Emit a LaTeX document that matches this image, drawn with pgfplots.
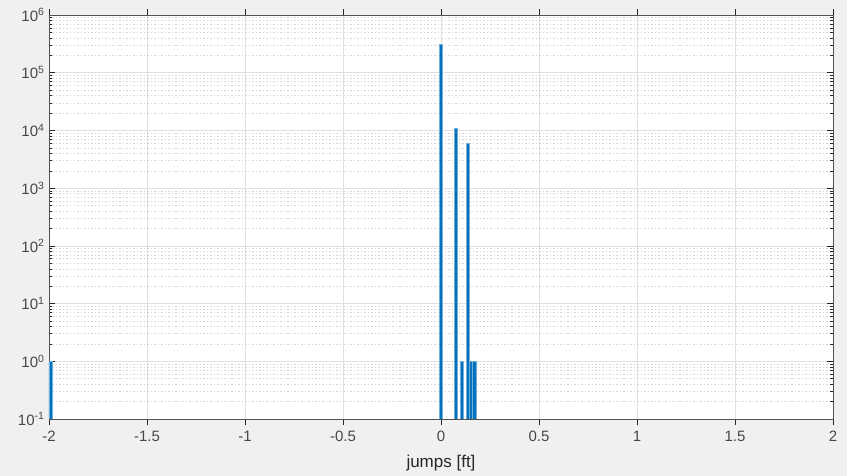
\documentclass[border=0pt]{standalone}
\usepackage{pgfplots}
\pgfplotsset{compat=1.18}
\usepackage{fontspec}
\setmainfont{Liberation Sans}
\definecolor{mblue}{RGB}{0,114,189}
\definecolor{bg}{RGB}{240,240,240}
\definecolor{axc}{RGB}{38,38,38}
\begin{document}
\begin{tikzpicture}[x=1pt,y=1pt]
\fill[bg] (0,0) rectangle (847,476);
\useasboundingbox (0,0) rectangle (847,476);
\begin{axis}[
  at={(49pt,57pt)}, anchor=south west,
  scale only axis, width=784pt, height=404pt,
  axis background/.style={fill=white},
  xmin=-2, xmax=2,
  ymode=log, ymin=0.1, ymax=1e6, log origin=infty,
  xtick={-2,-1.5,-1,-0.5,0,0.5,1,1.5,2},
  xticklabels={-2,-1.5,-1,-0.5,0,0.5,1,1.5,2},
  ytick={0.1,1,10,100,1000,10000,100000,1000000},
  yticklabels={10\textsuperscript{-1},10\textsuperscript{0},10\textsuperscript{1},10\textsuperscript{2},10\textsuperscript{3},10\textsuperscript{4},10\textsuperscript{5},10\textsuperscript{6}},
  tick label style={font=\fontsize{15}{17}\selectfont, text=axc!85},
  yticklabel style={xshift=-1pt},
  xticklabel style={yshift=-3pt},
  label style={font=\fontsize{17}{19}\selectfont, text=axc},
  xlabel={jumps [ft]},
  xlabel style={yshift=-6pt},
  tick align=inside, tick pos=both,
  major tick length=6pt, minor tick length=3pt,
  tick style={color=axc, line width=0.5pt},
  axis line style={color=axc!80, line width=0.6pt},
  xmajorgrids, ymajorgrids, yminorgrids,
  major grid style={color=black!12, line width=0.5pt},
  minor grid style={color=black!16, line width=0.5pt, dash pattern=on 1.5pt off 2pt},
  ybar, bar width=0.0156, bar shift=0pt,
]
\addplot[fill=mblue, draw=mblue!55, line width=0.7pt] coordinates {
  (-1.9922,1)
  (-0.0015,310000)
  (0.0765,11000)
  (0.1077,1)
  (0.1389,6000)
  (0.1545,1)
  (0.1701,1)
};
\end{axis}
\end{tikzpicture}
\end{document}
